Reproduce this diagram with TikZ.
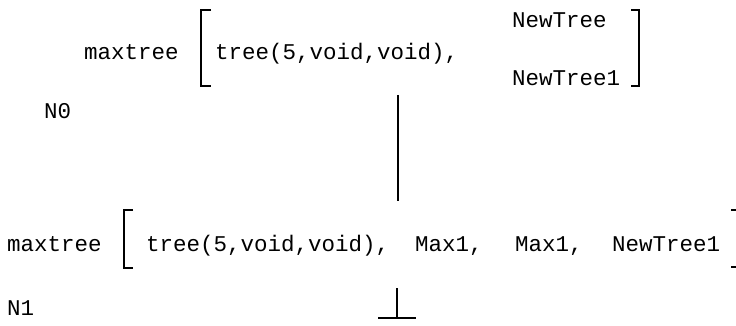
\documentclass[tikz,border=0pt]{standalone}
\usepackage{fontspec}
\newfontfamily\courfont{Liberation Mono}
\begin{document}
\begin{tikzpicture}[x=1pt,y=-1pt,
  txt/.style={anchor=base west,inner sep=0pt,font=\courfont\fontsize{22.5}{27}\selectfont},
  brk/.style={line width=1.3pt},
  conn/.style={line width=1.8pt}]
\useasboundingbox (0,0) rectangle (736,326);
% top row
\node[txt] (mt0) at (84,60) {maxtree};
\node[txt] (n0) at (44,119) {N0};
\node[txt] (t0) at (215,60) {tree(5,void,void),};
\node[txt] (nt) at (512,28) {NewTree};
\node[txt] (nt1) at (512,86) {NewTree1};
\draw[brk] (211,10) -- (201,10) -- (201,86) -- (211,86);
\draw[brk] (631,10) -- (639,10) -- (639,86) -- (631,86);
% connector
\coordinate (c0a) at (398,95);
\coordinate (c0b) at (398,201);
\draw[conn] (c0a) -- (c0b);
% bottom row
\node[txt] (mt1) at (7,251) {maxtree};
\node[txt] (n1) at (7,315) {N1};
\node[txt] (t1) at (146,251) {tree(5,void,void),};
\node[txt] (m1) at (415,251) {Max1,};
\node[txt] (m2) at (515,251) {Max1,};
\node[txt] (nt1b) at (612,251) {NewTree1};
\draw[brk] (133,210) -- (124,210) -- (124,268) -- (133,268);
\draw[brk] (731,210) -- (736,210);
\draw[brk] (731,267) -- (736,267);
% bottom stub
\coordinate (c1a) at (397,288);
\coordinate (c1b) at (397,318);
\coordinate (c1l) at (378,318);
\coordinate (c1r) at (416,318);
\draw[conn] (c1a) -- (c1b);
\draw[brk] (c1l) -- (c1r);
\end{tikzpicture}
\end{document}
